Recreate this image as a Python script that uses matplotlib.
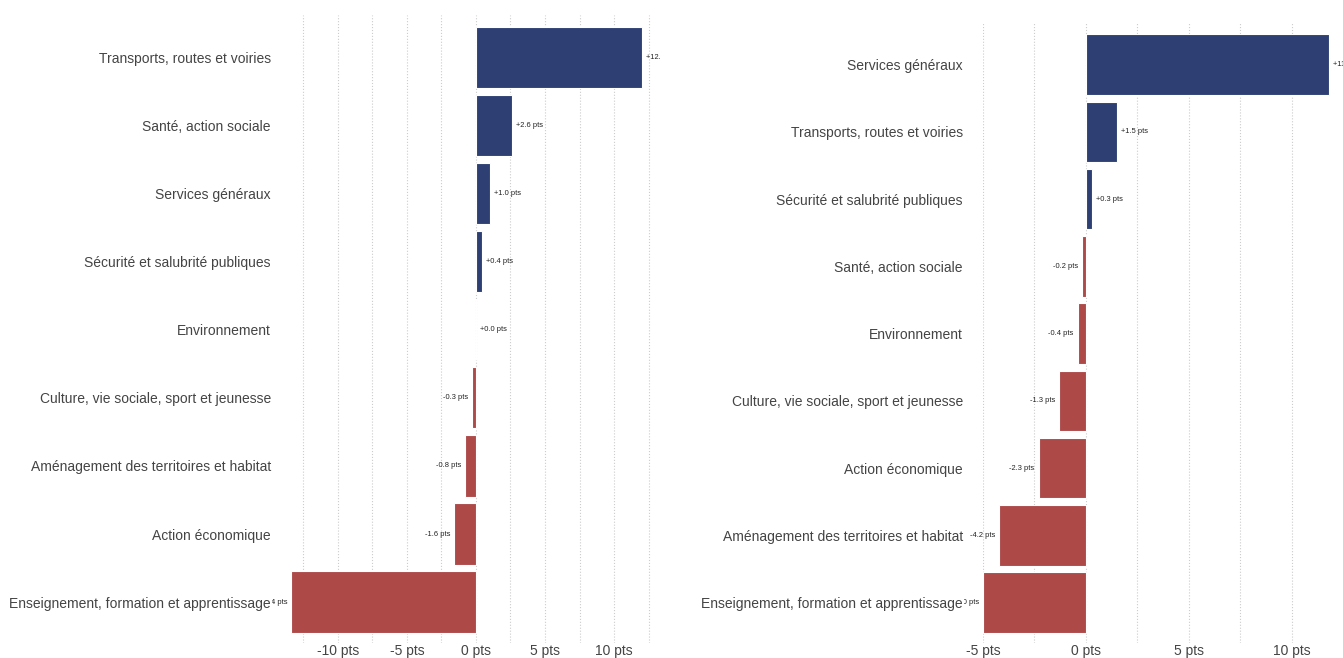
import numpy as np
import matplotlib
matplotlib.use('Agg')
import matplotlib.pyplot as plt
from matplotlib.transforms import Bbox, TransformedBbox
from matplotlib.ticker import MultipleLocator, FuncFormatter

plt.rcParams['font.family'] = ['Liberation Sans', 'DejaVu Sans']

# left panel
cats_left = ['Transports, routes et voiries', 'Santé, action sociale', 'Services généraux',
             'Sécurité et salubrité publiques', 'Environnement',
             'Culture, vie sociale, sport et jeunesse', 'Aménagement des territoires et habitat',
             'Action économique', 'Enseignement, formation et apprentissage']
vals_left = [12.0, 2.6, 1.0, 0.4, 0.0, -0.3, -0.8, -1.6, -13.4]

# right panel
cats_right = ['Services généraux', 'Transports, routes et voiries', 'Sécurité et salubrité publiques',
              'Santé, action sociale', 'Environnement', 'Culture, vie sociale, sport et jeunesse',
              'Action économique', 'Aménagement des territoires et habitat',
              'Enseignement, formation et apprentissage']
vals_right = [11.8, 1.5, 0.3, -0.2, -0.4, -1.3, -2.3, -4.2, -5.0]

blue = '#2e3f73'
red = '#ad4a48'
W, H = 1343, 658

fig = plt.figure(figsize=(W / 100, H / 100), dpi=100)


def panel(px0, px1, ptop, pbot, cats, vals, xlim):
    ax = fig.add_axes([px0 / W, 1 - pbot / H, (px1 - px0) / W, (pbot - ptop) / H])
    y = np.arange(len(cats))
    colors = [blue if v >= 0 else red for v in vals]
    ax.barh(y, vals, height=0.9, color=colors, edgecolor='white', linewidth=0.8, zorder=2)
    ax.set_xlim(*xlim)
    ax.set_ylim(len(cats) - 1 + 0.6, -0.62)
    ax.set_yticks(y)
    ax.set_yticklabels(cats, fontsize=10, color='#444444')
    ax.tick_params(axis='y', length=0, pad=14.4)
    ax.tick_params(axis='x', which='both', length=0, pad=0.5, labelsize=10, labelcolor='#444444')
    ax.xaxis.set_major_locator(MultipleLocator(5))
    ax.xaxis.set_minor_locator(MultipleLocator(2.5))
    ax.xaxis.set_major_formatter(FuncFormatter(lambda v, p: '%d pts' % v))
    ax.grid(axis='x', which='both', color='#cccccc', linestyle=':', linewidth=0.8, zorder=0)
    for s in ax.spines.values():
        s.set_visible(False)
    # value labels are hidden behind the category labels, like the original
    clip = TransformedBbox(Bbox([[(px0 - 19) / W, 0], [px1 / W, 1]]), fig.transFigure)
    off = (xlim[1] - xlim[0]) / (px1 - px0) * 4
    for yi, v in zip(y, vals):
        if v >= 0:
            t = ax.text(v + off, yi, '%+.1f pts' % v, ha='left', va='center', fontsize=5.4, color='#222222')
        else:
            t = ax.text(v - off, yi, '%.1f pts' % v, ha='right', va='center', fontsize=5.4, color='#222222')
        t.set_clip_on(True)
        t.set_clip_box(clip)
    return ax


panel(291, 660, 15, 643, cats_left, vals_left, (-13.4, 13.33))
panel(983, 1343, 23, 643, cats_right, vals_right, (-5.0, 12.48))

plt.savefig('out.png', dpi=100)
